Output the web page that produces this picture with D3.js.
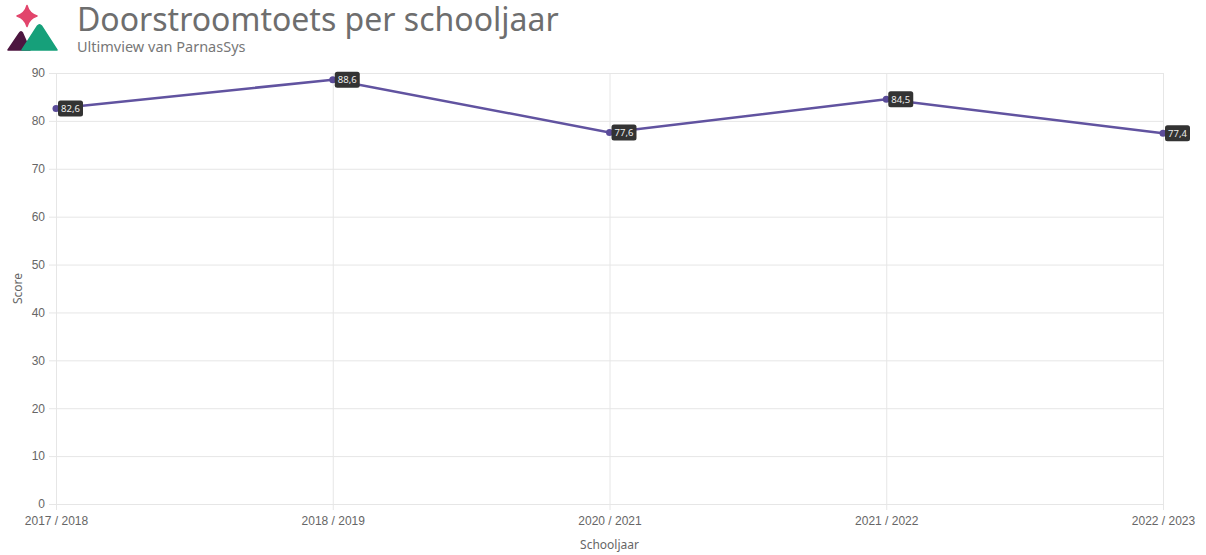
<!DOCTYPE html>
<meta charset="utf-8" />
<style>
    body { margin: 0; background: #fff; }
    svg { font-family: "Noto Sans", sans-serif; }
    .axis text { fill: #666; font-size: 12px; }
    .axis path { display: none; }
    .axis line { stroke: #e6e6e6; }
</style>
<svg width="1206" height="555"></svg>
<script src="https://d3js.org/d3.v7.min.js"></script>
<script>
    // data
    var schooljaren = ["2017 / 2018", "2018 / 2019", "2020 / 2021", "2021 / 2022", "2022 / 2023"];
    var scores = [82.6, 88.6, 77.6, 84.5, 77.4];
    var yTicks = [0, 10, 20, 30, 40, 50, 60, 70, 80, 90];

    var svg = d3.select("svg");
    var margin = { left: 56, right: 43, top: 73, bottom: 51 };
    var width = +svg.attr("width");
    var height = +svg.attr("height");
    var plotW = width - margin.left - margin.right;
    var plotH = height - margin.top - margin.bottom;

    var x = d3.scalePoint()
        .domain(schooljaren)
        .range([margin.left, width - margin.right]);
    var y = d3.scaleLinear()
        .domain([0, 90])
        .range([height - margin.bottom, margin.top]);

    // y grid + labels, grid sticks out 7px to the left as a tick
    svg.append("g")
        .attr("class", "axis")
        .attr("transform", "translate(" + margin.left + ",0)")
        .call(d3.axisLeft(y).tickValues(yTicks).tickSize(7).tickPadding(4))
        .selectAll(".tick line")
        .attr("x1", -7)
        .attr("x2", plotW);

    // x grid + labels
    svg.append("g")
        .attr("class", "axis")
        .attr("transform", "translate(0," + (height - margin.bottom) + ")")
        .call(d3.axisBottom(x).tickSize(6).tickPadding(6))
        .selectAll(".tick line")
        .attr("y1", 6)
        .attr("y2", -plotH);

    // axis titles
    svg.append("text")
        .attr("x", margin.left + plotW / 2)
        .attr("y", 549)
        .attr("text-anchor", "middle")
        .style("font-size", "12px")
        .style("fill", "#666")
        .text("Schooljaar");

    svg.append("text")
        .attr("transform", "translate(22," + (margin.top + plotH / 2) + ") rotate(-90)")
        .attr("text-anchor", "middle")
        .style("font-size", "12px")
        .style("fill", "#666")
        .text("Score");

    // line
    var line = d3.line()
        .x(function (d, i) { return x(schooljaren[i]); })
        .y(function (d) { return y(d); });

    svg.append("path")
        .datum(scores)
        .attr("d", line)
        .attr("fill", "none")
        .attr("stroke", "#6153a0")
        .attr("stroke-width", 2.5);

    svg.append("g")
        .selectAll("circle")
        .data(scores)
        .enter()
        .append("circle")
        .attr("cx", function (d, i) { return x(schooljaren[i]); })
        .attr("cy", function (d) { return y(d); })
        .attr("r", 3.5)
        .attr("fill", "#5a4b99");

    // value labels
    var labels = svg.append("g")
        .selectAll("g")
        .data(scores)
        .enter()
        .append("g")
        .attr("transform", function (d, i) {
            return "translate(" + (x(schooljaren[i]) + 2) + "," + y(d) + ")";
        });

    labels.append("rect")
        .attr("x", 0)
        .attr("y", -8)
        .attr("width", 25)
        .attr("height", 16)
        .attr("rx", 2.5)
        .attr("fill", "#333");

    labels.append("text")
        .attr("x", 12.5)
        .attr("y", 3.5)
        .attr("text-anchor", "middle")
        .style("font-size", "9.5px")
        .style("fill", "#eee")
        .text(function (d) { return d3.format(".1f")(d).replace(".", ","); });

    // header logo
    var logo = svg.append("g");
    logo.append("path")
        .attr("d", "M27,5.5 Q29,13.5 37,16 Q29,18.5 27,26.5 Q25,18.5 17,16 Q25,13.5 27,5.5 Z")
        .attr("stroke", "#e2456c")
        .attr("stroke-linejoin", "round")
        .attr("stroke-width", 1.5)
        .attr("fill", "#e2456c");
    logo.append("path")
        .attr("d", "M19.5,33 Q21,30.5 22.5,33 L30,50 L8,50 Z")
        .attr("stroke", "#4d1640")
        .attr("stroke-linejoin", "round")
        .attr("stroke-width", 1.5)
        .attr("fill", "#4d1640");
    logo.append("path")
        .attr("d", "M37.5,26 Q39.5,23.5 41.5,26 L57,50 L22,50 Z")
        .attr("stroke", "#16a07a")
        .attr("stroke-linejoin", "round")
        .attr("stroke-width", 1.5)
        .attr("fill", "#16a07a");

    svg.append("text")
        .attr("x", 77)
        .attr("y", 31)
        .style("font-size", "32px")
        .style("fill", "#6e6e6e")
        .text("Doorstroomtoets per schooljaar");

    svg.append("text")
        .attr("x", 77)
        .attr("y", 52)
        .style("font-size", "14.5px")
        .style("fill", "#777")
        .text("Ultimview van ParnasSys");
</script>
